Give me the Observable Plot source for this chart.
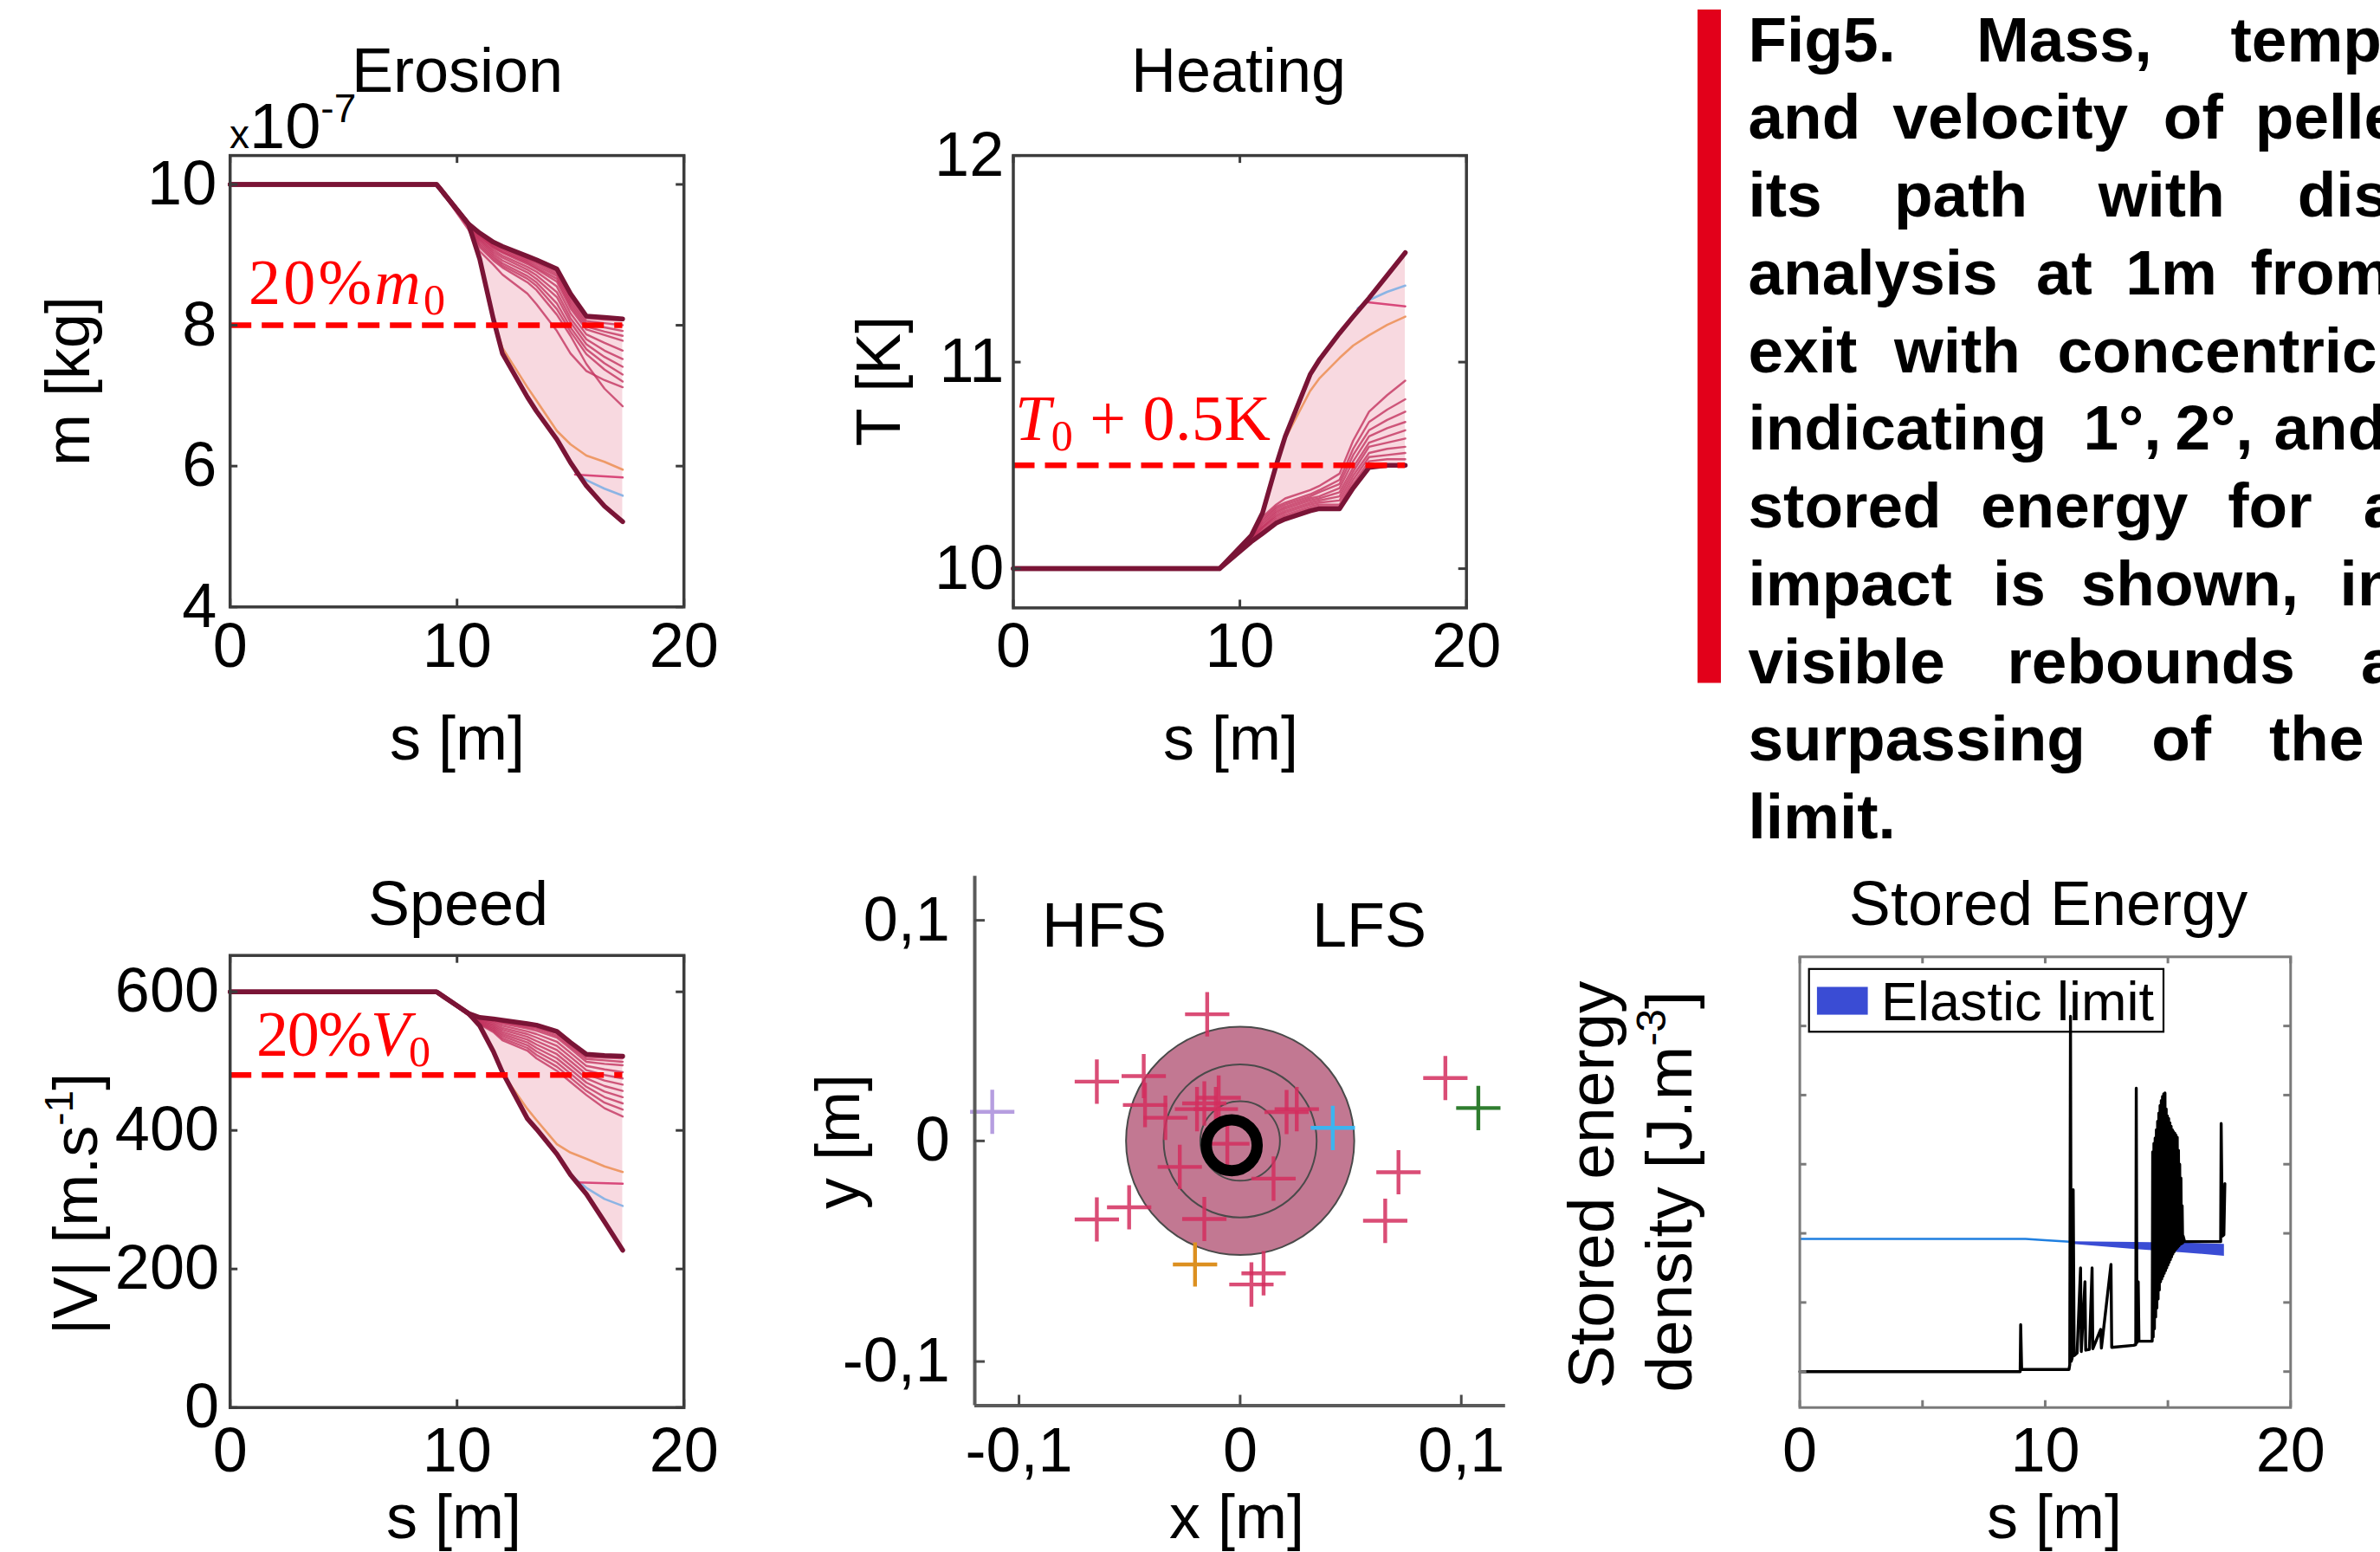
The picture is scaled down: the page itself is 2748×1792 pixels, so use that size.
<!DOCTYPE html>
<html><head><meta charset="utf-8">
<script src="https://cdn.jsdelivr.net/npm/d3@7"></script>
<script src="https://cdn.jsdelivr.net/npm/@observablehq/plot@0.6"></script>
<style>
html,body{margin:0;padding:0;background:#fff;overflow:hidden;}
#page{position:relative;width:2748px;height:1792px;overflow:hidden;background:#fff;}
#page svg{position:absolute;left:0;top:0;}
</style></head>
<body><div id="page"></div>
<script>
// ---------------- DATA ----------------
const sGrid = [0, 9.1, 10.5, 11.0, 11.6, 12.0, 13.1, 13.5, 14.4, 15.0, 15.7, 16.5, 17.3];

// Erosion: mass (x1e-7 kg)
const massUpper = [10, 10, 9.44, 9.31, 9.18, 9.12, 8.98, 8.93, 8.80, 8.45, 8.13, 8.11, 8.09];
const massLower = [10, 10, 9.44, 8.94, 8.09, 7.60, 6.98, 6.78, 6.38, 6.05, 5.72, 5.43, 5.21];
const massRuns = [
  [10,10,9.44,9.30,9.16,9.10,8.95,8.90,8.76,8.40,8.10,8.08,8.07],
  [10,10,9.44,9.29,9.14,9.08,8.93,8.88,8.73,8.36,8.06,8.03,8.00],
  [10,10,9.44,9.28,9.13,9.06,8.91,8.85,8.70,8.32,8.02,7.97,7.92],
  [10,10,9.43,9.27,9.11,9.04,8.89,8.82,8.66,8.28,7.98,7.91,7.85],
  [10,10,9.43,9.26,9.10,9.03,8.87,8.80,8.62,8.24,7.94,7.86,7.78],
  [10,10,9.43,9.24,9.07,8.99,8.83,8.76,8.55,8.17,7.87,7.75,7.64],
  [10,10,9.42,9.22,9.04,8.96,8.79,8.71,8.47,8.10,7.80,7.64,7.52],
  [10,10,9.42,9.20,9.01,8.92,8.75,8.66,8.40,8.04,7.73,7.55,7.41],
  [10,10,9.41,9.17,8.98,8.88,8.70,8.61,8.31,7.97,7.66,7.46,7.30],
  [10,10,9.40,9.14,8.95,8.85,8.66,8.56,8.23,7.91,7.59,7.37,7.20],
  [10,10,9.39,9.11,8.92,8.82,8.61,8.50,8.15,7.85,7.45,7.10,6.85],
  [10,10,9.36,9.05,8.86,8.72,8.45,8.30,7.92,7.60,7.35,7.22,7.12]
];
const massOrangeS = [11.6, 12.0, 13.1, 13.5, 14.4, 15.0, 15.7, 16.5, 17.3];
const massOrange  = [8.09, 7.68, 7.12, 6.93, 6.50, 6.31, 6.15, 6.06, 5.95];
const massBlueS = [15.2, 15.7, 16.5, 17.3];
const massBlue  = [5.92, 5.80, 5.68, 5.58];
const massPinkS = [15.2, 17.3];
const massPink  = [5.88, 5.84];

// Heating: temperature (K)
const tempMax = [10, 10, 10.16, 10.27, 10.50, 10.64, 10.94, 11.01, 11.14, 11.22, 11.31, 11.42, 11.53];
const tempRuns = [
  [10,10,10.16,10.25,10.31,10.34,10.38,10.40,10.46,10.62,10.76,10.84,10.91],
  [10,10,10.16,10.24,10.30,10.32,10.36,10.38,10.43,10.58,10.71,10.77,10.82],
  [10,10,10.16,10.23,10.29,10.31,10.35,10.37,10.41,10.55,10.67,10.72,10.76],
  [10,10,10.15,10.22,10.28,10.30,10.34,10.35,10.39,10.52,10.64,10.68,10.71],
  [10,10,10.15,10.21,10.27,10.29,10.33,10.34,10.37,10.49,10.61,10.64,10.67],
  [10,10,10.15,10.20,10.26,10.28,10.32,10.33,10.35,10.47,10.59,10.61,10.63],
  [10,10,10.14,10.20,10.25,10.27,10.31,10.32,10.33,10.45,10.56,10.58,10.59],
  [10,10,10.14,10.19,10.24,10.26,10.30,10.31,10.31,10.43,10.54,10.55,10.56],
  [10,10,10.14,10.18,10.23,10.25,10.29,10.30,10.30,10.41,10.52,10.53,10.53],
  [10,10,10.13,10.17,10.22,10.24,10.28,10.29,10.29,10.39,10.49,10.50,10.50]
];
const tempMin = tempRuns[9];
const tempOrangeS = [11.9, 12.0, 13.1, 13.5, 14.4, 15.0, 15.7, 16.5, 17.3];
const tempOrange  = [10.60, 10.63, 10.86, 10.92, 11.02, 11.08, 11.13, 11.18, 11.22];
const tempBlueS = [15.2, 15.7, 16.5, 17.3];
const tempBlue  = [11.26, 11.30, 11.34, 11.37];
const tempPinkS = [15.65, 17.3];
const tempPink  = [11.29, 11.27];

// Speed (m/s)
const speedUpper = [600, 600, 569, 563, 561, 559, 554, 552, 543, 527, 510, 508, 507];
const speedLower = [600, 600, 569, 551, 514, 484, 417, 402, 366, 336, 308, 268, 227];
const speedRuns = [
  [600,600,569,562,560,557,551,549,540,524,506,505,504],
  [600,600,569,562,559,556,549,547,537,521,503,501,499],
  [600,600,569,561,558,554,547,544,534,518,499,496,494],
  [600,600,568,560,556,551,543,539,528,512,493,488,484],
  [600,600,568,559,554,548,539,534,522,506,487,480,475],
  [600,600,568,558,552,545,535,529,516,500,481,472,466],
  [600,600,567,557,550,542,531,524,510,494,475,464,457],
  [600,600,567,556,548,539,527,519,504,488,469,456,448],
  [600,600,567,555,546,536,523,514,498,482,463,448,439],
  [600,600,566,554,544,533,519,509,492,476,457,440,430],
  [600,600,566,553,542,530,515,504,486,470,451,432,420]
];
const speedOrangeS = [11.9, 12.0, 13.1, 13.5, 14.4, 15.0, 15.7, 16.5, 17.3];
const speedOrange  = [492, 482, 431, 415, 380, 368, 359, 348, 340];
const speedBlueS = [15.0, 15.7, 16.5, 17.3];
const speedBlue  = [336, 317, 301, 291];
const speedPinkS = [15.3, 17.3];
const speedPink  = [325, 323];

// Dispersion at 1 m (m)
const impactX = [-0.0149,-0.0648,-0.0436,-0.0430,-0.0338,-0.0195,-0.0162,-0.0110,-0.0097,0.0210,0.0256,-0.0058,-0.0273,0.0151,-0.0648,-0.0502,-0.0162,0.0716,0.0656,0.0928,0.0106,0.0051];
const impactY = [0.0574,0.0269,0.0294,0.0163,0.0105,0.0144,0.0170,0.0144,0.0196,0.0131,0.0144,-0.0013,-0.0118,-0.0171,-0.0356,-0.0301,-0.0354,-0.0142,-0.0362,0.0285,-0.0600,-0.0651];
const specialX = [-0.1121, 0.0419, 0.1077, -0.0204];
const specialY = [0.0132, 0.0059, 0.0149, -0.0560];
const specialColor = ["#b69ee0", "#3cb4ef", "#2f7d2f", "#dc9020"];
const circleR = [0.0516, 0.0346, 0.018];   // 3°, 2°, 1° at 1 m
const clusterX = [-0.0038], clusterY = [-0.002], clusterR = [0.0115];

// Stored energy (arbitrary units, unlabelled axis)
const seS = [0, 8.98, 9.00, 9.04, 10.97, 11.00, 11.03, 11.06, 11.10, 11.14, 11.18, 11.30, 11.44, 11.47, 11.62, 11.65, 11.80, 11.91, 11.94, 12.26, 12.29, 12.68, 12.71, 13.60, 13.69, 13.71, 13.74, 13.79, 13.82, 14.36,
  14.38,14.40,14.43,14.45,14.48,14.50,14.53,14.55,14.58,14.60,14.63,14.65,14.68,14.70,14.73,14.75,14.78,14.80,14.83,14.85,14.88,14.90,14.93,14.95,14.98,15.00,15.03,15.05,15.08,15.10,15.13,15.15,15.18,15.20,15.23,15.25,15.28,15.30,15.33,15.35,15.38,15.40,15.43,15.45,15.48,15.50,15.53,15.55,15.58,15.60,15.62,15.68,
  17.15, 17.17, 17.22, 17.28, 17.32];
const seE = [0, 0, 0.68, 0.03, 0.03, 0.10, 5.14, 0.15, 0.20, 2.63, 0.23, 0.27, 1.50, 0.29, 1.30, 0.31, 0.32, 1.50, 0.33, 0.61, 0.34, 1.55, 0.35, 0.38, 0.39, 4.10, 0.42, 1.30, 0.44, 0.44,
  3.18,0.50,3.30,0.62,3.38,0.79,3.50,0.92,3.62,1.05,3.74,1.18,3.85,1.30,3.92,1.34,3.98,1.38,4.02,1.42,4.03,1.46,3.80,1.50,3.70,1.54,3.66,1.58,3.60,1.62,3.55,1.66,3.50,1.70,3.47,1.73,3.45,1.76,3.42,1.78,3.39,1.80,3.20,1.82,3.00,1.84,2.80,1.85,2.40,1.86,1.96,1.88,
  1.88, 3.59, 1.96, 1.98, 2.72];
const limS = [0, 9.2, 10.0, 11.0];
const limV = [1.92, 1.92, 1.90, 1.88];
const bandS  = [11.0, 11.14, 13.6, 15.6, 17.3];
const bandHi = [1.88, 1.88, 1.87, 1.86, 1.84];
const bandLo = [1.87, 1.84, 1.77, 1.72, 1.67];

// Tick values
const sTicks = [0, 10, 20];
const massTicks = [4, 6, 8, 10];
const tempTicks = [10, 11, 12];
const speedTicks = [0, 200, 400, 600];
const posTicks = [-0.1, 0, 0.1];
const seXTicks = [0, 5, 10, 15, 20];
const seYTicks = [0, 1, 2, 3, 4, 5];

// Caption
const capLines = [
  ["Fig5.", "Mass,", "temperature"],
  ["and", "velocity", "of", "pellet"],
  ["its", "path", "with", "dispersion"],
  ["analysis", "at", "1m", "from"],
  ["exit", "with", "concentric"],
  ["indicating", "1°,", "2°,", "and"],
  ["stored", "energy", "for", "a"],
  ["impact", "is", "shown,", "in"],
  ["visible", "rebounds", "and"],
  ["surpassing", "of", "the"],
  ["limit."]
];

// ---------------- LAYOUT ----------------
const W = 2748, H = 1792;
const FONT = '"Liberation Sans", Arial, Helvetica, sans-serif';
const SERIF = '"Liberation Serif", "DejaVu Serif", serif';
const page = document.getElementById("page");
const intFmt = d => String(d);

const boxErosion = [265.2, 179.1, 789.2, 700.3];
const boxHeating = [1169.5, 179.1, 1692.7, 701.4];
const boxSpeed   = [265.2, 1102.7, 789.2, 1624.7];
const boxScatter = [1125, 1011.2, 1737.8, 1622.5];
const boxStored  = [2077.6, 1104.3, 2644.3, 1624.7];

function margins([L, T, R, B]) {
  return {marginLeft: L, marginTop: T, marginRight: W - R, marginBottom: H - B};
}
function baseStyle() {
  return {background: "transparent", fontFamily: FONT, fontSize: "72px", color: "#000", overflow: "visible"};
}
function inwardTicks(xt, yt, [L, T, R, B], len, stroke, sw) {
  const fw = R - L, fh = B - T;
  return [
    Plot.tickX(xt, {x: d => d, insetTop: fh - len, stroke, strokeWidth: sw}),
    Plot.tickX(xt, {x: d => d, insetBottom: fh - len, stroke, strokeWidth: sw}),
    Plot.tickY(yt, {y: d => d, insetRight: fw - len, stroke, strokeWidth: sw}),
    Plot.tickY(yt, {y: d => d, insetLeft: fw - len, stroke, strokeWidth: sw})
  ];
}
const rowsOf = (S, V) => S.map((s, i) => ({s, v: V[i]}));

function ensemblePanel({box, yDomain, yTicks, runs, envelopes, orange, blue, pink, threshold, xPad, yPad}) {
  const all = [...runs, ...envelopes];
  const fillRows = sGrid.map((s, j) => ({s, lo: d3.min(all, r => r[j]), hi: d3.max(all, r => r[j])}));
  const runRows = runs.flatMap((r, i) => sGrid.map((s, j) => ({s, v: r[j], run: i})));
  const envRows = envelopes.flatMap((r, i) => sGrid.map((s, j) => ({s, v: r[j], run: i})));
  return Plot.plot({
    width: W, height: H, ...margins(box),
    style: baseStyle(),
    x: {domain: [0, 20]},
    y: {domain: yDomain},
    marks: [
      Plot.areaY(fillRows, {x: "s", y1: "lo", y2: "hi", fill: "#f8d9e0"}),
      Plot.line(runRows, {x: "s", y: "v", z: "run", stroke: "#c3335f", strokeOpacity: 0.8, strokeWidth: 2.4}),
      Plot.line(orange, {x: "s", y: "v", stroke: "#ee9a68", strokeWidth: 2.6}),
      Plot.line(blue, {x: "s", y: "v", stroke: "#8cb4e4", strokeWidth: 2.6}),
      Plot.line(pink, {x: "s", y: "v", stroke: "#d8487a", strokeWidth: 2.6}),
      Plot.line(envRows, {x: "s", y: "v", z: "run", stroke: "#7a1436", strokeWidth: 5.5}),
      Plot.ruleY([threshold], {x1: 0, x2: 17.3, stroke: "#ff0000", strokeWidth: 6.5, strokeDasharray: "25,12"}),
      Plot.frame({stroke: "#3c3c3c", strokeWidth: 3.5}),
      ...inwardTicks(sTicks, yTicks, box, 9, "#3c3c3c", 3),
      Plot.axisX({ticks: sTicks, tickFormat: intFmt, tickSize: 0, tickPadding: xPad, label: null}),
      Plot.axisY({ticks: yTicks, tickFormat: intFmt, tickSize: 0, tickPadding: yPad, label: null})
    ]
  });
}

// Erosion
page.append(ensemblePanel({
  box: boxErosion, yDomain: [4, 10.41], yTicks: massTicks,
  runs: massRuns, envelopes: [massUpper, massLower],
  orange: rowsOf(massOrangeS, massOrange), blue: rowsOf(massBlueS, massBlue), pink: rowsOf(massPinkS, massPink),
  threshold: 8, xPad: 17.6, yPad: 15.5
}));
// Heating
page.append(ensemblePanel({
  box: boxHeating, yDomain: [9.81, 12], yTicks: tempTicks,
  runs: tempRuns, envelopes: [tempMax, tempMin],
  orange: rowsOf(tempOrangeS, tempOrange), blue: rowsOf(tempBlueS, tempBlue), pink: rowsOf(tempPinkS, tempPink),
  threshold: 10.5, xPad: 16.5, yPad: 10.8
}));
// Speed
page.append(ensemblePanel({
  box: boxSpeed, yDomain: [0, 652.5], yTicks: speedTicks,
  runs: speedRuns, envelopes: [speedUpper, speedLower],
  orange: rowsOf(speedOrangeS, speedOrange), blue: rowsOf(speedBlueS, speedBlue), pink: rowsOf(speedPinkS, speedPink),
  threshold: 480, xPad: 23, yPad: 12.7
}));

// Dispersion scatter
{
  const [L, T, R, B] = boxScatter;
  const fw = R - L, fh = B - T;
  const fmt = d => d === 0 ? "0" : d.toFixed(1).replace(".", ",");
  const impacts = impactX.map((x, i) => ({x, y: impactY[i]}));
  const specials = specialX.map((x, i) => ({x, y: specialY[i], c: specialColor[i]}));
  const circles = circleR.map(r => ({x: 0, y: 0, r}));
  const cluster = clusterX.map((x, i) => ({x, y: clusterY[i], r: clusterR[i]}));
  page.append(Plot.plot({
    width: W, height: H, ...margins(boxScatter),
    style: baseStyle(),
    x: {domain: [-0.12, 0.12]},
    y: {domain: [-0.12, 0.12]},
    r: {type: "linear", domain: [0, 0.12], range: [0, 0.12 * fw / 0.24]},
    marks: [
      Plot.dot(circles.slice(0, 1), {x: "x", y: "y", r: "r", fill: "#c27892", stroke: "#4a4a4a", strokeWidth: 2}),
      Plot.dot(circles.slice(1), {x: "x", y: "y", r: "r", fill: "none", stroke: "#4a4a4a", strokeWidth: 2}),
      Plot.dot(impacts, {x: "x", y: "y", symbol: "plus", r: 16.5, stroke: "#d42e5e", strokeOpacity: 0.85, strokeWidth: 4.4}),
      Plot.dot(cluster, {x: "x", y: "y", r: "r", fill: "none", stroke: "#000", strokeWidth: 13}),
      ...specials.map(d => Plot.dot([d], {x: "x", y: "y", symbol: "plus", r: 16.5, stroke: d.c, strokeWidth: 4.4})),
      Plot.ruleX([-0.12], {stroke: "#5a5a5a", strokeWidth: 4}),
      Plot.ruleY([-0.12], {stroke: "#5a5a5a", strokeWidth: 4}),
      Plot.tickX(posTicks, {x: d => d, insetTop: fh - 12, stroke: "#4a4a4a", strokeWidth: 3}),
      Plot.tickY(posTicks, {y: d => d, insetRight: fw - 12, stroke: "#4a4a4a", strokeWidth: 3}),
      Plot.axisX({ticks: posTicks, tickFormat: fmt, tickSize: 0, tickPadding: 25, label: null}),
      Plot.axisY({ticks: posTicks, tickFormat: fmt, tickSize: 0, tickPadding: 28.6, label: null})
    ]
  }));
}

// Stored energy
{
  const lineRows = seS.map((s, i) => ({s, e: seE[i]}));
  const bandRows = bandS.map((s, i) => ({s, lo: bandLo[i], hi: bandHi[i]}));
  page.append(Plot.plot({
    width: W, height: H, ...margins(boxStored),
    style: baseStyle(),
    x: {domain: [0, 20]},
    y: {domain: [-0.52, 6.0], axis: null},
    marks: [
      Plot.line(rowsOf(limS, limV), {x: "s", y: "v", stroke: "#1f7fe0", strokeWidth: 2.5}),
      Plot.areaY(bandRows, {x: "s", y1: "lo", y2: "hi", fill: "#3a4cd4"}),
      Plot.line(lineRows, {x: "s", y: "e", stroke: "#000", strokeWidth: 3.4}),
      Plot.frame({stroke: "#7a7a7a", strokeWidth: 3}),
      ...inwardTicks(seXTicks, seYTicks, boxStored, 8, "#7a7a7a", 3),
      Plot.axisX({ticks: sTicks, tickFormat: intFmt, tickSize: 0, tickPadding: 23, label: null})
    ]
  }));
}

// ---------------- TEXT OVERLAY ----------------
const ov = d3.create("svg").attr("width", W).attr("height", H).attr("viewBox", `0 0 ${W} ${H}`)
  .style("font-family", FONT).style("overflow", "hidden");

function text(x, y, t, {size = 72, anchor = "middle", rot = false, weight = "normal", fill = "#000", family = FONT} = {}) {
  const el = ov.append("text")
    .attr("text-anchor", anchor).attr("font-size", size).attr("font-weight", weight)
    .attr("fill", fill).attr("font-family", family);
  if (rot) el.attr("transform", `translate(${x},${y}) rotate(-90)`);
  else el.attr("x", x).attr("y", y);
  el.html(t);
  return el;
}

// titles
text(528, 106, "Erosion");
text(1430, 106, "Heating");
text(529, 1068, "Speed");
text(2365, 1068, "Stored Energy");
// x labels
text(528, 877, "s [m]");
text(1421, 877, "s [m]");
text(524, 1776, "s [m]");
text(1428, 1776, "x [m]");
text(2372, 1776, "s [m]");
// y labels
text(103, 440, "m [kg]", {rot: true});
text(1039, 440, "T [K]", {rot: true});
text(112, 1390, '|V| [m.s<tspan font-size="46" dy="-28">-1</tspan><tspan dy="28">]</tspan>', {rot: true});
text(992, 1318, "y [m]", {rot: true});
text(1863, 1368, "Stored energy", {rot: true, size: 75});
text(1953, 1376, 'density [J.m<tspan font-size="48" dy="-30">-3</tspan><tspan dy="30">]</tspan>', {rot: true, size: 75});
// exponent
text(265, 171, '<tspan font-size="46">x</tspan><tspan font-size="74">10</tspan><tspan font-size="46" dy="-30">-7</tspan>', {anchor: "start"});
// thresholds
text(287, 351, '20%<tspan font-style="italic">m</tspan><tspan font-size="50" dy="12">0</tspan>',
  {anchor: "start", size: 74, fill: "#ff0000", family: SERIF}).attr("textLength", 227).attr("lengthAdjust", "spacing");
text(1172, 508, '<tspan font-style="italic">T</tspan><tspan font-size="50" dy="12">0</tspan><tspan dy="-12"> + 0.5K</tspan>',
  {anchor: "start", size: 74, fill: "#ff0000", family: SERIF}).attr("textLength", 295).attr("lengthAdjust", "spacing");
text(296, 1219, '20%<tspan font-style="italic">V</tspan><tspan font-size="50" dy="12">0</tspan>',
  {anchor: "start", size: 74, fill: "#ff0000", family: SERIF}).attr("textLength", 201).attr("lengthAdjust", "spacing");
// HFS / LFS
text(1275, 1093, "HFS");
text(1581, 1093, "LFS");
// legend
ov.append("rect").attr("x", 2088.7).attr("y", 1118.8).attr("width", 409.3).attr("height", 72.5)
  .attr("fill", "none").attr("stroke", "#000").attr("stroke-width", 2.2);
ov.append("rect").attr("x", 2097.9).attr("y", 1139.5).attr("width", 58.7).attr("height", 32.1).attr("fill", "#3a4cd4");
text(2172, 1178, "Elastic limit", {anchor: "start", size: 63});

// caption
ov.append("rect").attr("x", 1960).attr("y", 11).attr("width", 27).attr("height", 777.5).attr("fill", "#e2001a");
const capX = [
  [2018.5, 2282, 2575.5],
  [2018.5, 2185.3, 2497.8, 2603.8],
  [2018.5, 2187, 2422.8, 2652.7],
  [2018.5, 2351, 2454.3, 2598.4],
  [2018.5, 2187, 2375.5],
  [2018.5, 2405.4, 2511.4, 2625.5],
  [2018.5, 2287, 2572.3, 2728.8],
  [2018.5, 2301, 2402.7, 2701.6],
  [2018.5, 2317.4, 2726],
  [2018.5, 2484.2, 2620],
  [2018.5]
];
capLines.forEach((words, i) => {
  const y = 70.5 + i * 89.75;
  words.forEach((w, j) => text(capX[i][j], y, w, {anchor: "start", size: 73, weight: "bold"}));
});

page.append(ov.node());
</script></body></html>
